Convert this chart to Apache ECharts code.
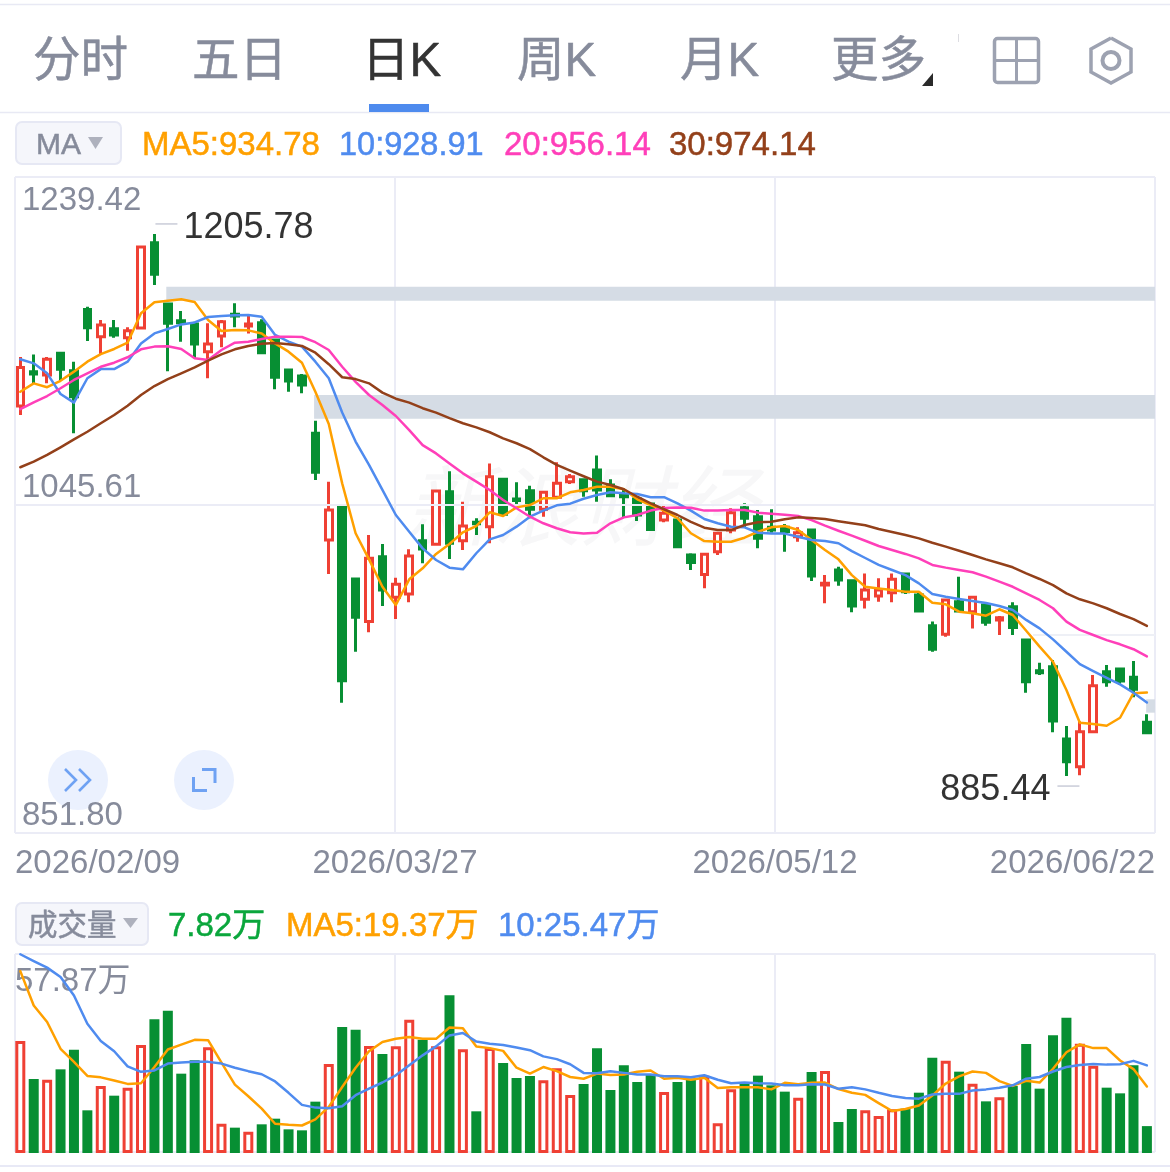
<!DOCTYPE html>
<html>
<head>
<meta charset="utf-8">
<style>html,body{margin:0;padding:0;background:#fff}#c{width:1170px;height:1172px}</style>
<script src="https://cdn.jsdelivr.net/npm/echarts@6/dist/echarts.min.js"></script>
</head>
<body>
<div id="c"></div>
<script>
const tabs = ['分时','五日','日K','周K','月K','更多'];
const dateTicks = ['2026/02/09','2026/03/27','2026/05/12','2026/06/22'];
const priceMin = 851.80, priceMax = 1239.42, volMax = 57.87;
const highPrice = 1205.78, highIndex = 10, lowPrice = 885.44, lowIndex = 78;

const opens = [
1104.1,1124.4,1122.4,1135.3,1124.9,1161.2,1145.1,1149.8,1144.5,1150.2,
1200.6,1164.4,1154.5,1152.5,1136.2,1145.5,1158.3,1151.4,1153.3,1143.1,
1125.4,1121.8,1088.0,1024.9,1045.0,1001.9,976.7,1015.1,991.1,993.0,
1024.5,1022.4,1053.5,1024.5,1035.4,1032.8,1060.8,1049.2,1054.1,1043.1,
1050.2,1059.4,1060.6,1066.3,1057.4,1051.5,1049.2,1046.2,1036.7,1036.7,
1016.1,1004.6,1018.0,1030.8,1044.0,1038.7,1032.4,1032.4,1026.9,1030.8,
998.3,1007.2,1000.9,989.9,991.8,993.8,1004.8,992.4,974.3,969.2,
988.5,982.6,986.5,977.7,985.5,965.8,947.7,950.1,907.3,890.9,
911.6,947.1,948.7,943.8,917.2];
const closes = [
1126.8,1123.0,1131.7,1125.8,1109.6,1150.4,1152.0,1146.1,1148.6,1198.1,
1181.9,1153.0,1153.3,1140.7,1140.7,1153.9,1157.3,1152.5,1135.6,1121.1,
1118.9,1116.5,1064.9,1042.7,941.8,979.3,1014.1,995.4,998.8,1015.5,
1019.6,1053.9,1023.0,1033.2,1034.6,1062.3,1040.1,1048.2,1043.1,1053.1,
1058.4,1062.3,1054.1,1054.5,1051.1,1050.5,1039.7,1031.2,1040.7,1021.0,
1011.7,1016.5,1028.9,1041.0,1037.8,1025.9,1030.8,1030.0,1029.2,1003.6,
999.3,1001.3,985.9,995.4,995.4,1001.7,994.4,983.0,960.4,989.5,
983.0,991.1,976.3,979.0,973.3,941.2,946.5,918.0,893.9,911.6,
938.8,941.2,941.6,936.7,911.1];
const lows = [
1098.8,1117.5,1117.5,1119.0,1088.0,1142.5,1134.8,1144.5,1136.8,1149.4,
1175.6,1124.6,1142.1,1132.3,1120.5,1138.8,1150.6,1147.0,1135.6,1114.0,
1112.5,1111.6,1060.4,1004.8,928.8,958.9,970.4,985.9,978.2,988.1,
1011.2,1021.6,1013.7,1019.0,1027.9,1023.0,1039.7,1046.2,1037.8,1038.7,
1049.6,1058.0,1050.5,1047.6,1051.1,1038.1,1036.1,1030.8,1035.4,1020.0,
1007.2,996.4,1016.1,1028.9,1032.4,1020.0,1029.2,1018.0,1023.9,1000.7,
987.5,997.9,982.2,984.5,988.5,988.1,993.0,983.0,958.9,967.8,
982.6,972.7,974.3,968.8,968.8,934.7,945.2,911.3,885.44,885.9,
910.7,938.2,939.3,932.0,911.1];
const highs = [
1133.1,1134.6,1133.1,1136.2,1130.3,1162.8,1154.9,1154.9,1150.6,1198.1,
1205.78,1165.2,1160.2,1153.9,1153.0,1154.9,1164.8,1157.3,1155.3,1143.1,
1125.8,1123.0,1095.4,1059.4,1045.0,1001.9,1027.9,1022.6,1002.6,1019.4,
1034.2,1053.9,1065.5,1047.6,1037.8,1070.2,1060.8,1059.0,1057.0,1053.1,
1070.8,1063.9,1060.6,1074.8,1060.8,1055.5,1049.2,1046.6,1045.2,1038.3,
1017.1,1016.5,1028.9,1043.7,1046.6,1042.7,1043.1,1034.4,1032.4,1031.2,
1004.2,1009.1,1000.9,1005.2,1002.3,1005.2,1004.8,994.4,976.7,989.9,
1003.2,991.1,988.1,980.0,988.1,966.8,952.4,954.0,915.0,917.9,
945.1,951.1,948.7,953.5,921.9];

const ma5 = [
1112.5,1117.5,1115.2,1119.0,1124.4,1130.3,1134.8,1137.8,1141.5,1158.9,
1165.4,1166.3,1167.2,1165.6,1154.9,1148.4,1149.0,1148.8,1147.0,1141.1,
1136.2,1129.7,1112.5,1093.5,1058.4,1028.9,1013.5,997.3,986.5,1001.7,
1008.2,1016.7,1022.6,1029.5,1033.2,1041.3,1039.1,1044.2,1045.6,1049.6,
1049.6,1053.1,1054.5,1056.4,1056.4,1054.9,1049.0,1045.6,1042.3,1037.8,
1028.9,1024.3,1023.9,1023.9,1026.3,1029.8,1032.4,1033.2,1030.8,1024.9,
1019.0,1013.5,1004.2,997.3,996.3,995.4,994.4,994.4,987.9,986.9,
982.6,981.6,980.2,984.0,980.6,971.3,961.9,953.0,936.3,917.0,
916.2,915.2,919.9,934.4,934.78];
const ma10 = [
1131.7,1129.3,1123.4,1111.2,1106.1,1120.5,1125.9,1125.9,1130.3,1141.1,
1147.0,1149.6,1152.3,1153.5,1156.7,1157.3,1157.7,1157.9,1156.9,1146.1,
1142.1,1139.2,1130.3,1120.5,1100.3,1083.1,1069.3,1054.5,1039.7,1029.8,
1020.0,1013.1,1008.6,1007.6,1017.1,1025.3,1027.9,1032.8,1038.7,1042.3,
1045.4,1046.4,1049.3,1051.5,1053.1,1052.5,1052.1,1050.2,1050.2,1046.6,
1042.3,1037.3,1034.8,1032.8,1032.4,1029.2,1028.7,1028.7,1026.9,1024.9,
1024.3,1023.0,1018.4,1014.3,1010.2,1007.2,1004.2,999.3,993.0,991.4,
990.1,988.9,987.7,985.9,983.6,977.7,972.7,966.2,958.9,951.6,
947.5,943.5,939.6,934.7,928.91];
const ma20 = [
1102.2,1106.3,1110.0,1114.6,1119.5,1123.4,1127.3,1129.7,1132.9,1137.6,
1139.2,1139.4,1137.8,1132.3,1131.3,1137.2,1141.5,1142.1,1143.7,1145.1,
1145.1,1144.9,1141.8,1137.2,1127.3,1118.4,1110.6,1104.7,1098.2,1089.9,
1081.0,1076.1,1070.2,1064.3,1059.4,1054.5,1048.6,1043.7,1038.7,1034.8,
1031.9,1029.5,1028.8,1029.2,1034.8,1038.3,1039.7,1042.3,1043.8,1044.2,
1044.0,1042.3,1042.3,1042.7,1042.7,1041.1,1040.5,1039.9,1039.1,1036.7,
1033.4,1030.4,1027.5,1024.5,1021.4,1019.0,1016.7,1014.1,1010.2,1008.6,
1007.2,1005.9,1003.3,1000.3,997.3,993.4,989.5,984.6,976.7,971.8,
968.8,965.8,963.3,960.4,956.14];
const ma30 = [
1067.9,1071.2,1075.2,1079.7,1084.4,1088.9,1093.9,1098.8,1104.3,1110.6,
1115.9,1120.0,1123.4,1126.9,1130.9,1134.6,1137.6,1139.6,1140.9,1141.3,
1140.6,1139.6,1135.6,1128.8,1121.1,1120.0,1117.5,1112.0,1108.4,1106.1,
1102.8,1100.2,1096.9,1093.9,1091.5,1088.6,1085.0,1082.1,1078.6,1073.8,
1069.3,1065.9,1062.6,1059.4,1057.4,1054.9,1050.5,1046.6,1043.1,1039.7,
1035.7,1032.2,1030.8,1030.8,1033.8,1035.4,1035.7,1037.2,1038.3,1037.9,
1037.3,1036.0,1034.8,1033.6,1031.4,1029.7,1027.9,1025.9,1023.3,1021.0,
1018.6,1016.1,1013.5,1011.2,1008.8,1005.2,1001.9,998.3,993.4,989.9,
987.5,984.6,981.2,978.2,974.14];

const volumes = [
32.57,21.52,21.32,24.33,30.05,12.41,19.48,16.67,19.00,31.40,
38.87,41.39,23.07,26.95,30.73,8.53,7.37,6.20,8.34,9.98,
6.88,6.59,14.93,25.88,36.64,35.86,31.11,28.79,31.02,38.77,
32.96,31.02,45.85,30.15,12.12,30.53,26.17,21.81,22.39,21.13,
24.62,16.87,20.06,30.44,18.32,25.49,20.65,22.78,17.74,20.65,
21.62,22.49,8.63,18.51,20.65,22.49,19.68,17.84,16.09,23.55,
23.85,9.01,12.80,12.41,10.76,12.70,12.89,17.54,27.72,26.85,
23.65,20.16,15.02,16.19,19.48,31.70,18.71,34.22,39.35,31.79,
25.40,19.00,17.35,25.49,7.82];
const volMa5 = [
52.9,42.9,38.1,30.3,26.5,22.4,22.0,21.1,20.1,20.3,
25.0,30.1,31.5,32.9,32.8,26.3,19.9,16.5,12.9,8.5,
8.2,8.0,9.8,13.4,19.2,24.8,29.6,32.3,33.2,33.7,
33.2,33.2,36.5,36.3,31.0,30.5,29.7,24.8,23.1,25.0,
23.8,22.1,21.6,23.1,22.7,22.8,23.6,24.0,21.6,21.9,
21.3,21.9,18.9,19.1,19.1,19.1,18.5,20.4,20.0,20.4,
20.5,18.6,17.5,16.9,14.5,12.2,12.8,13.8,16.7,20.2,
22.3,23.7,23.3,20.9,19.5,21.0,20.5,24.5,29.3,31.6,
30.5,30.5,26.9,24.4,19.37];
const volMa10 = [
57.8,55.8,53.9,51.2,45.8,37.6,32.6,29.6,25.2,23.6,
24.0,26.0,26.3,26.5,26.5,26.0,24.8,23.8,22.9,20.8,
17.5,14.0,13.2,13.0,13.6,16.8,18.7,20.5,22.6,25.5,
28.4,31.0,34.2,34.9,32.4,31.8,31.4,30.7,29.9,28.1,
27.3,25.8,23.3,23.2,23.8,23.3,22.8,22.8,22.3,22.3,
22.0,22.6,21.3,20.3,20.5,20.3,20.2,19.7,19.7,20.0,
19.9,18.7,19.1,18.5,17.5,16.6,16.0,15.8,17.0,17.2,
17.2,18.2,18.5,19.0,19.7,21.6,22.1,23.7,25.0,25.6,
25.9,25.7,25.8,26.8,25.47];

// unfilled price gaps: start position on the 85-slot axis, upper and lower price
const gapStart = [11.28, 22.3, 84.34];
const gapTop = [1174.6, 1110.6, 930.8];
const gapBottom = [1166.3, 1096.5, 922.9];

const FONT = '"Liberation Sans","Noto Sans CJK SC",sans-serif';
const UP = '#ef4034', DOWN = '#078f33', GRAY = '#868b9b', LINE = '#ebecf6';
const COL5 = '#ffa000', COL10 = '#4f8bef', COL20 = '#ff3fb9', COL30 = '#93401a';
const N = opens.length;
const categories = opens.map((_, i) => String(i));
const candles = opens.map((o, i) => [o, closes[i], lows[i], highs[i]]);
const upVol = volumes.map((v, i) => closes[i] >= opens[i] ? v : null);
const downVol = volumes.map((v, i) => closes[i] >= opens[i] ? null : v);

function maLine(name, data, color, xi, yi) {
  return { name, type: 'line', data, xAxisIndex: xi, yAxisIndex: yi, showSymbol: false, symbol: 'none',
    smooth: false, z: 5, silent: true, lineStyle: { color, width: 2.5, join: 'round', cap: 'round' } };
}
function txt(x, y, text, fontSize, fill, align) {
  return { type: 'text', x, y, z: 20, silent: true,
    style: { text, fontSize, fill, stroke: fill, lineWidth: 0.5, fontFamily: FONT, align: align || 'left', verticalAlign: 'middle' } };
}
const line = (x1, y1, x2, y2, stroke, w) => ({ type: 'line', z: 1, silent: true,
  shape: { x1, y1, x2, y2 }, style: { stroke, lineWidth: w || 2 } });
const poly = (points, stroke, w) => ({ type: 'polyline', z: 21, silent: true, shape: { points },
  style: { stroke, lineWidth: w, fill: null } });
const tri = (points, fill) => ({ type: 'polygon', z: 21, silent: true, shape: { points }, style: { fill } });

const tabX = [33, 192, 362, 517, 680, 831];
const graphics = [
  { type: 'text', x: 581, y: 515, z: 0, silent: true,
    style: { text: '新浪财经', fontSize: 88, fontStyle: 'italic', fill: 'rgba(60,60,70,0.04)', fontFamily: FONT, align: 'center', verticalAlign: 'middle' } },
  line(0, 4.5, 1170, 4.5, '#e8e9f4', 1.5),
  line(0, 112.5, 1170, 112.5, '#e8e9f4', 1.5),
  line(0, 1166, 1170, 1166, '#e8e9f6', 2),
  line(1033, 635, 1155, 635, '#eef0f6', 2),
  { type: 'rect', z: 21, silent: true, shape: { x: 369, y: 104, width: 60, height: 8 }, style: { fill: '#4e8bee' } },
  tri([[933, 73], [933, 86], [922, 86]], '#2a2a2a'),
  line(958.5, 34, 958.5, 42, '#dddde2', 1),
  { type: 'rect', z: 21, silent: true, shape: { x: 994.5, y: 38.5, width: 44, height: 44, r: 3 }, style: { fill: null, stroke: '#9da2b1', lineWidth: 3.5 } },
  line(1016.5, 38, 1016.5, 83, '#9da2b1', 3),
  line(994, 60.5, 1039, 60.5, '#9da2b1', 3),
  poly([[1111, 38], [1131, 49], [1131, 72], [1111, 83], [1091, 72], [1091, 49], [1111, 38]], '#9da2b1', 3.5),
  { type: 'circle', z: 21, silent: true, shape: { cx: 1111, cy: 60.5, r: 8.5 }, style: { fill: null, stroke: '#9da2b1', lineWidth: 4 } },
  { type: 'rect', z: 2, silent: true, shape: { x: 16, y: 122, width: 105, height: 42, r: 6 }, style: { fill: '#f5f6fb', stroke: '#e6e8f4', lineWidth: 2 } },
  txt(36, 146, 'MA', 30, GRAY),
  tri([[88, 137], [103, 137], [95.5, 149]], '#aeb1bd'),
  txt(142, 146, 'MA5:934.78', 33, COL5),
  txt(339, 146, '10:928.91', 32.5, COL10),
  txt(504, 146, '20:956.14', 33, COL20),
  txt(669, 146, '30:974.14', 33, COL30),
  { type: 'rect', z: 2, silent: true, shape: { x: 16, y: 903, width: 132, height: 42, r: 6 }, style: { fill: '#f5f6fb', stroke: '#e6e8f4', lineWidth: 2 } },
  txt(28, 927, '成交量', 29.5, GRAY),
  tri([[123, 918], [138, 918], [130.5, 928]], '#aeb1bd'),
  txt(168, 927, '7.82万', 33, '#0aa63c'),
  txt(286, 927, 'MA5:19.37万', 33, COL5),
  txt(498, 927, '10:25.47万', 33, COL10),
  { type: 'circle', z: -1, silent: true, shape: { cx: 78, cy: 780, r: 30 }, style: { fill: '#ebf1fe' } },
  { type: 'circle', z: -1, silent: true, shape: { cx: 204, cy: 780, r: 30 }, style: { fill: '#ebf1fe' } },
  poly([[65, 769], [76, 780], [65, 791]], '#6fa2f3', 2.6),
  poly([[79, 769], [90, 780], [79, 791]], '#6fa2f3', 2.6),
  poly([[202, 769.5], [215, 769.5], [215, 783]], '#6fa2f3', 3),
  poly([[193.5, 777], [193.5, 790.5], [207, 790.5]], '#6fa2f3', 3)
];
tabs.forEach((t, i) => graphics.push(txt(tabX[i], 63, t, 47.5, i === 2 ? '#333333' : GRAY)));

const option = {
  animation: false,
  backgroundColor: '#ffffff',
  textStyle: { fontFamily: FONT },
  grid: [
    { left: 15, top: 177, width: 1140, height: 656 },
    { left: 13.6, top: 177, width: 1140, height: 656 },
    { left: 15, top: 954, width: 1140, height: 198 },
    { left: 13.6, top: 954, width: 1140, height: 199 }
  ],
  xAxis: [
    { type: 'value', gridIndex: 0, min: 0, max: N, interval: N / 3,
      axisLine: { show: false }, axisTick: { show: false },
      splitLine: { show: true, lineStyle: { color: LINE, width: 2 } },
      axisLabel: { show: true, color: GRAY, fontSize: 33, fontFamily: FONT, margin: 14, hideOverlap: false,
        alignMinLabel: 'left', alignMaxLabel: 'right',
        formatter: v => dateTicks[Math.round(v * 3 / N)] } },
    { type: 'category', gridIndex: 1, data: categories, show: false },
    { type: 'value', gridIndex: 2, min: 0, max: N, interval: N / 3, axisLine: { show: false }, axisTick: { show: false },
      axisLabel: { show: false }, splitLine: { show: true, lineStyle: { color: LINE, width: 2 } } },
    { type: 'category', gridIndex: 3, data: categories, show: false }
  ],
  yAxis: [
    { type: 'value', gridIndex: 0, min: priceMin, max: priceMax, interval: (priceMax - priceMin) / 2, z: 4,
      axisLine: { show: false }, axisTick: { show: false },
      splitLine: { show: true, lineStyle: { color: LINE, width: 2 } },
      axisLabel: { show: true, inside: true, margin: 7, color: GRAY, fontSize: 33, fontFamily: FONT,
        verticalAlign: 'bottom', verticalAlignMaxLabel: 'top', padding: [7, 0, 1, 0],
        formatter: v => v.toFixed(2) } },
    { type: 'value', gridIndex: 1, min: priceMin, max: priceMax, show: false, splitLine: { show: false } },
    { type: 'value', gridIndex: 2, min: 0, max: volMax, interval: volMax,
      axisLine: { show: false }, axisTick: { show: false },
      splitLine: { show: true, lineStyle: { color: LINE, width: 2 } },
      axisLabel: { show: true, inside: true, margin: 0, color: GRAY, fontSize: 33, fontFamily: FONT,
        showMinLabel: false, verticalAlign: 'bottom', verticalAlignMaxLabel: 'top', padding: [11, 0, 0, 0],
        formatter: v => v.toFixed(2) + '万' } },
    { type: 'value', gridIndex: 3, min: 0, max: volMax, show: false, splitLine: { show: false } }
  ],
  series: [
    { type: 'line', name: 'gaps', xAxisIndex: 0, yAxisIndex: 0, data: [], z: 1, silent: true,
      markArea: { silent: true, itemStyle: { color: '#d5dce5' },
        data: gapStart.map((s, i) => [{ coord: [s, gapTop[i]] }, { coord: [N, gapBottom[i]] }]) } },
    { type: 'candlestick', name: '日K', xAxisIndex: 1, yAxisIndex: 1, data: candles, barWidth: 7, z: 3, silent: true,
      itemStyle: { color: '#ffffff', color0: DOWN, borderColor: UP, borderColor0: DOWN, borderWidth: 3 },
      markPoint: { silent: true, animation: false,
        data: [
          { coord: [highIndex, highPrice], symbol: 'rect', symbolSize: [22, 1.5], symbolOffset: [12, -10],
            itemStyle: { color: '#c9ccd8' },
            label: { show: true, position: 'right', distance: 6, offset: [0, 4], formatter: () => highPrice.toFixed(2),
              color: '#333', fontSize: 36, fontFamily: FONT } },
          { coord: [lowIndex, lowPrice], symbol: 'rect', symbolSize: [22, 1.5], symbolOffset: [2, 10],
            itemStyle: { color: '#c9ccd8' },
            label: { show: true, position: 'left', distance: 7, offset: [0, 4], formatter: () => lowPrice.toFixed(2),
              color: '#333', fontSize: 36, fontFamily: FONT } }
        ] } },
    maLine('MA5', ma5, COL5, 1, 1),
    maLine('MA10', ma10, COL10, 1, 1),
    maLine('MA20', ma20, COL20, 1, 1),
    maLine('MA30', ma30, COL30, 1, 1),
    { type: 'bar', name: '成交量涨', xAxisIndex: 3, yAxisIndex: 3, data: upVol, barWidth: 10, barGap: '-100%', z: 3, silent: true,
      itemStyle: { color: '#ffffff', borderColor: UP, borderWidth: 3 } },
    { type: 'bar', name: '成交量跌', xAxisIndex: 3, yAxisIndex: 3, data: downVol, barWidth: 10, barGap: '-100%', z: 3, silent: true,
      itemStyle: { color: DOWN } },
    maLine('量MA5', volMa5, COL5, 3, 3),
    maLine('量MA10', volMa10, COL10, 3, 3)
  ],
  graphic: { elements: graphics }
};
const chart = echarts.init(document.getElementById('c'), null, { renderer: 'canvas', width: 1170, height: 1172 });
chart.setOption(option);
</script>
</body>
</html>
